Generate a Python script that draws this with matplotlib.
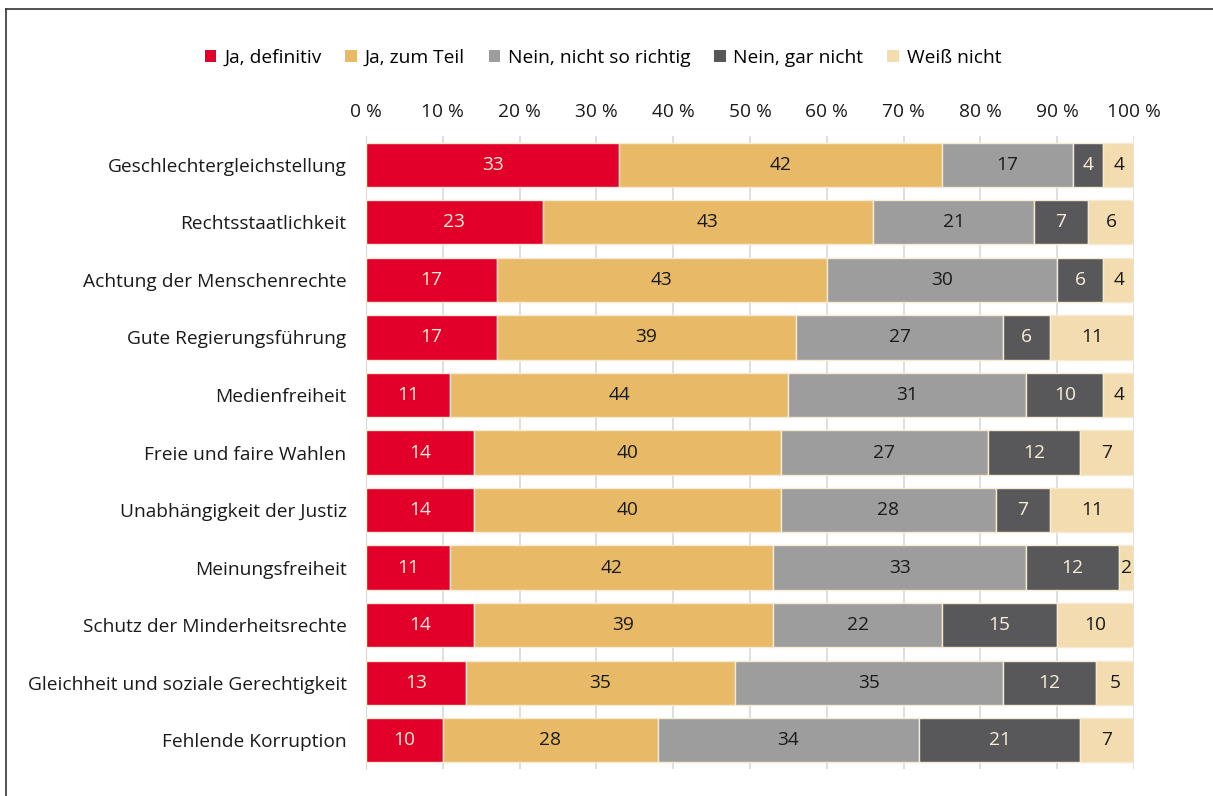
import matplotlib
matplotlib.use("Agg")
import matplotlib.pyplot as plt
from matplotlib.lines import Line2D
from matplotlib.patches import Patch

plt.rcParams['font.family'] = ['Open Sans', 'DejaVu Sans']

categories = [
    "Geschlechtergleichstellung",
    "Rechtsstaatlichkeit",
    "Achtung der Menschenrechte",
    "Gute Regierungsführung",
    "Medienfreiheit",
    "Freie und faire Wahlen",
    "Unabhängigkeit der Justiz",
    "Meinungsfreiheit",
    "Schutz der Minderheitsrechte",
    "Gleichheit und soziale Gerechtigkeit",
    "Fehlende Korruption",
]
series_names = ["Ja, definitiv", "Ja, zum Teil", "Nein, nicht so richtig", "Nein, gar nicht", "Weiß nicht"]
ja_definitiv = [33, 23, 17, 17, 11, 14, 14, 11, 14, 13, 10]
ja_zum_teil = [42, 43, 43, 39, 44, 40, 40, 42, 39, 35, 28]
nein_nicht_so = [17, 21, 30, 27, 31, 27, 28, 33, 22, 35, 34]
nein_gar_nicht = [4, 7, 6, 6, 10, 12, 7, 12, 15, 12, 21]
weiss_nicht = [4, 6, 4, 11, 4, 7, 11, 2, 10, 5, 7]
tick_values = [0, 10, 20, 30, 40, 50, 60, 70, 80, 90, 100]
tick_labels = ["0 %", "10 %", "20 %", "30 %", "40 %", "50 %", "60 %", "70 %", "80 %", "90 %", "100 %"]

colors = ["#E2002A", "#E8B967", "#9D9D9D", "#58585A", "#F3DDB0"]
text_colors = ["#FBEFD9", "#1a1a1a", "#1a1a1a", "#FBEFD9", "#1a1a1a"]
series = [ja_definitiv, ja_zum_teil, nein_nicht_so, nein_gar_nicht, weiss_nicht]

FS = 13.8

fig = plt.figure(figsize=(12.13, 7.96), dpi=100)
ax = fig.add_axes([366/1213, 1-769/796, (1134-366)/1213, (769-136)/796])

y = list(range(len(categories)))
left = [0]*len(categories)
for s, vals in enumerate(series):
    ax.barh(y, vals, left=left, height=0.77, color=colors[s], edgecolor="#F6EAD3",
            linewidth=1.0, zorder=3, label=series_names[s])
    for i, v in enumerate(vals):
        ax.text(left[i] + v/2, i, f"{v}", ha="center", va="center",
                fontsize=FS, color=text_colors[s], zorder=4)
    left = [l + v for l, v in zip(left, vals)]

ax.set_xlim(0, 100)
ax.set_ylim(len(categories)-0.5, -0.5)
ax.set_yticks(y)
ax.set_yticklabels(categories, fontsize=FS, color="#1a1a1a")
ax.set_xticks(tick_values)
ax.set_xticklabels(tick_labels, fontsize=FS, color="#1a1a1a")
ax.xaxis.tick_top()
ax.tick_params(axis="x", length=0, pad=11)
ax.tick_params(axis="y", length=0, pad=14)
for sp in ax.spines.values():
    sp.set_visible(False)
ax.spines["left"].set_visible(True)
ax.spines["left"].set_color("#D9D9D9")
ax.grid(axis="x", color="#D9D9D9", linewidth=1.2, zorder=0)
ax.set_axisbelow(True)

handles = [Patch(facecolor=c, edgecolor="none") for c in colors]
fig.legend(handles, series_names, loc="center", bbox_to_anchor=(603/1213, 1-58/796),
           ncol=5, frameon=False, fontsize=FS, handlelength=0.6, handleheight=0.6,
           handletextpad=0.4, columnspacing=1.25)

fig.add_artist(Line2D([6/1213, 6/1213], [0, 1-9/796], color="#333333", linewidth=1.2))
fig.add_artist(Line2D([6/1213, 1], [1-9/796, 1-9/796], color="#333333", linewidth=1.2))

fig.savefig("out.png", dpi=100, facecolor="white")
